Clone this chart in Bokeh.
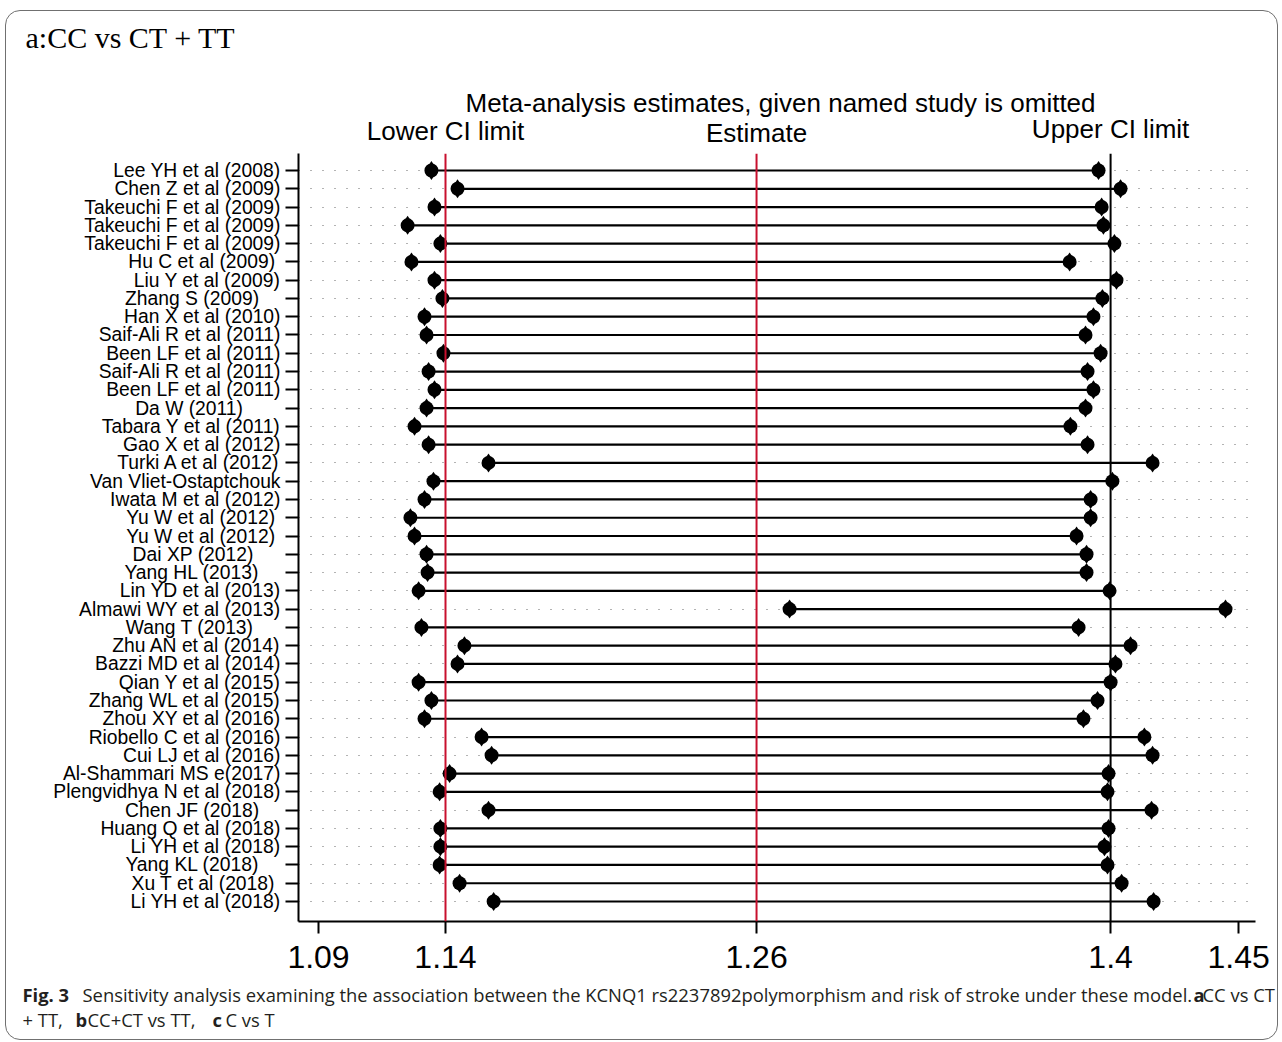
from bokeh.plotting import figure
from bokeh.layouts import column
from bokeh.models import ColumnDataSource, FixedTicker, Span, Range1d
from bokeh.core.properties import value
from bokeh.embed import file_html
from bokeh.resources import INLINE

# ---------------- data ----------------
studies = [
    "Lee YH et al (2008)", "Chen Z et al (2009)", "Takeuchi F et al (2009)",
    "Takeuchi F et al (2009)", "Takeuchi F et al (2009)", "Hu C et al (2009)",
    "Liu Y et al (2009)", "Zhang S  (2009)", "Han X et al (2010)",
    "Saif-Ali R et al (2011)", "Been LF et al (2011)", "Saif-Ali R et al (2011)",
    "Been LF et al (2011)", "Da W (2011)", "Tabara Y et al (2011)",
    "Gao X et al (2012)", "Turki A et al (2012)", "Van Vliet-Ostaptchouk",
    "Iwata M et al (2012)", "Yu W et al (2012)", "Yu W et al (2012)",
    "Dai XP (2012)", "Yang HL (2013)", "Lin YD et al (2013)",
    "Almawi WY et al (2013)", "Wang T  (2013)", "Zhu AN et al (2014)",
    "Bazzi MD et al (2014)", "Qian Y et al (2015)", "Zhang WL et al (2015)",
    "Zhou XY et al (2016)", "Riobello C et al (2016)", "Cui LJ et al (2016)",
    "Al-Shammari MS e(2017)", "Plengvidhya N et al (2018)", "Chen JF  (2018)",
    "Huang Q et al (2018)", "Li YH et al (2018)", "Yang KL  (2018)",
    "Xu T et al (2018)", "Li YH et al (2018)",
]
lower_ci = [
    1.1345, 1.1447, 1.1357, 1.1252, 1.1380, 1.1267, 1.1357, 1.1388, 1.1318,
    1.1326, 1.1392, 1.1334, 1.1357, 1.1326, 1.1279, 1.1334, 1.1568, 1.1353,
    1.1318, 1.1263, 1.1279, 1.1326, 1.1330, 1.1295, 1.2744, 1.1306, 1.1474,
    1.1447, 1.1295, 1.1345, 1.1318, 1.1541, 1.1580, 1.1416, 1.1377, 1.1568,
    1.1380, 1.1380, 1.1377, 1.1455, 1.1588,
]
upper_ci = [
    1.3951, 1.4037, 1.3963, 1.3970, 1.4013, 1.3838, 1.4021, 1.3966, 1.3931,
    1.3900, 1.3959, 1.3908, 1.3931, 1.3900, 1.3841, 1.3908, 1.4162, 1.4005,
    1.3920, 1.3920, 1.3865, 1.3904, 1.3904, 1.3994, 1.4447, 1.3873, 1.4076,
    1.4017, 1.3998, 1.3947, 1.3892, 1.4130, 1.4162, 1.3990, 1.3986, 1.4158,
    1.3990, 1.3974, 1.3986, 1.4041, 1.4166,
]
overall_lower = 1.1400
overall_est = 1.2615
overall_upper = 1.3998
axis_min = 1.0904
axis_max = 1.4498
x_tick_values = [axis_min, overall_lower, overall_est, overall_upper, axis_max]
x_tick_labels = ["1.09", "1.14", "1.26", "1.4", "1.45"]

panel_title = "a:CC vs CT + TT"
header_main = "Meta-analysis estimates, given named study is omitted"
header_lower = "Lower CI limit"
header_est = "Estimate"
header_upper = "Upper CI limit"

# trailing padding (layout) for the shorter Stata labels
label_pad = {5: 1, 7: 3, 13: 7, 19: 1, 20: 1, 21: 5, 22: 4, 25: 4, 35: 3, 38: 3, 39: 1}

# ---------------- layout (page pixel coordinates) ----------------
OX, OY = 6, 11            # inner origin (inside rounded border)
RX, BY = 1277, 1039       # inner right / bottom edge
IW = RX - OX
FL, FR, FT, FB = 298, 1255, 153, 921   # main plot frame
MAIN_BOTTOM = 982
PX_PER_UNIT = 2560.0
X0 = overall_lower - (445 - FL) / PX_PER_UNIT
X1 = X0 + (FR - FL) / PX_PER_UNIT
ROW = 18.275
n = len(studies)
Y1 = n + 17 / ROW
Y0 = 1 - 20 / ROW


def px_of(v):
    return FL + (v - X0) * PX_PER_UNIT


def text_fig(top, bottom):
    f = figure(width=IW, height=bottom - top, x_range=Range1d(OX, RX),
               y_range=Range1d(bottom, top), output_backend="svg",
               toolbar_location=None, title=None, x_axis_type=None, y_axis_type=None,
               min_border=0, min_border_left=0, min_border_right=0,
               min_border_top=0, min_border_bottom=0, frame_align=False)
    f.outline_line_color = None
    f.grid.visible = False
    f.background_fill_alpha = 0
    f.border_fill_alpha = 0
    return f


def put(f, x, y, text, font="Liberation Sans", size="26px", align="center",
        style="normal", color="black"):
    f.text(x=[x], y=[y], text=[text], text_font=value(font),
           text_font_size=value(size), text_align=align,
           text_baseline="alphabetic", text_font_style=style, text_color=color)


# ---------- header figure ----------
top = text_fig(OY, FT)
put(top, 25, 37, panel_title, font="Liberation Serif", size="30px", align="left")
put(top, 780, 102, header_main)
put(top, px_of(overall_lower), 130, header_lower)
put(top, px_of(overall_est), 132, header_est)
put(top, px_of(overall_upper), 128, header_upper)

# ---------- main figure ----------
ys = [n - i for i in range(n)]
src = ColumnDataSource(dict(y=ys, lo=lower_ci, hi=upper_ci))

p = figure(width=IW, height=MAIN_BOTTOM - FT, x_range=Range1d(X0, X1),
           y_range=Range1d(Y0, Y1), output_backend="svg", toolbar_location=None,
           title=None, min_border_left=FL - OX, min_border_right=RX - FR,
           min_border_top=0, min_border_bottom=MAIN_BOTTOM - FB, frame_align=False)
p.outline_line_color = None
p.background_fill_alpha = 0
p.border_fill_alpha = 0

p.xgrid.grid_line_color = None
p.ygrid.ticker = FixedTicker(ticks=ys)
p.ygrid.grid_line_color = "#666666"
p.ygrid.grid_line_width = 1
p.ygrid.grid_line_dash = "1 11"

p.yaxis.ticker = FixedTicker(ticks=ys)
overrides = {}
for i, name in enumerate(studies):
    overrides[n - i] = name + "\u00a0" * label_pad.get(i, 0)
p.yaxis.major_label_overrides = overrides
p.yaxis.major_label_text_font = "Liberation Sans"
p.yaxis.major_label_text_font_size = "19.3px"
p.yaxis.major_label_text_color = "black"
p.yaxis.axis_line_width = 2
p.yaxis.axis_line_color = "black"
p.yaxis.major_tick_line_width = 2
p.yaxis.major_tick_out = 13
p.yaxis.major_tick_in = 0
p.yaxis.minor_tick_line_color = None
p.yaxis.major_label_standoff = 5

p.xaxis.ticker = FixedTicker(ticks=x_tick_values)
p.xaxis.major_label_overrides = dict(zip(x_tick_values, x_tick_labels))
p.xaxis.major_label_text_font = "Liberation Sans"
p.xaxis.major_label_text_font_size = "32px"
p.xaxis.major_label_text_color = "black"
p.xaxis.axis_line_width = 2
p.xaxis.axis_line_color = "black"
p.xaxis.major_tick_line_width = 2
p.xaxis.major_tick_out = 12
p.xaxis.major_tick_in = 0
p.xaxis.minor_tick_line_color = None
p.xaxis.major_label_standoff = 12

RED = "#c8102e"
p.add_layout(Span(location=overall_lower, dimension="height", line_color=RED, line_width=2))
p.add_layout(Span(location=overall_est, dimension="height", line_color=RED, line_width=2))
p.add_layout(Span(location=overall_upper, dimension="height", line_color="black", line_width=2))

p.segment(x0="lo", y0="y", x1="hi", y1="y", source=src, line_color="black", line_width=2.2)
for col in ("lo", "hi"):
    p.scatter(x=col, y="y", source=src, marker="diamond", size=19,
              fill_color="black", line_color="black", line_width=0)
    p.scatter(x=col, y="y", source=src, marker="circle", size=14,
              fill_color="black", line_color="black", line_width=0)

# ---------- caption figure ----------
cap = text_fig(MAIN_BOTTOM, BY)
CAP = "Open Sans"
CS = "18.4px"
CC = "#231f20"
put(cap, 22, 994, "Fig. 3", font=CAP, size=CS, align="left", style="bold", color=CC)
put(cap, 82, 994, "Sensitivity analysis examining the association between the KCNQ1 "
    "rs2237892polymorphism and risk of stroke under these model.",
    font=CAP, size=CS, align="left", color=CC)
put(cap, 1193, 994, "a", font=CAP, size=CS, align="left", style="bold", color=CC)
put(cap, 1202, 994, "CC vs CT", font=CAP, size=CS, align="left", color=CC)
put(cap, 22, 1019, "+ TT,", font=CAP, size=CS, align="left", color=CC)
put(cap, 75, 1019, "b", font=CAP, size=CS, align="left", style="bold", color=CC)
put(cap, 87, 1019, "CC+CT vs TT,", font=CAP, size=CS, align="left", color=CC)
put(cap, 212, 1019, "c", font=CAP, size=CS, align="left", style="bold", color=CC)
put(cap, 225, 1019, "C vs T", font=CAP, size=CS, align="left", color=CC)

layout = column(top, p, cap, spacing=0, margin=(OY - 1, 0, 0, OX - 1),
                styles={"border": "1px solid #707070", "border-radius": "15px"})

open("out.html", "w").write(file_html(layout, INLINE))
